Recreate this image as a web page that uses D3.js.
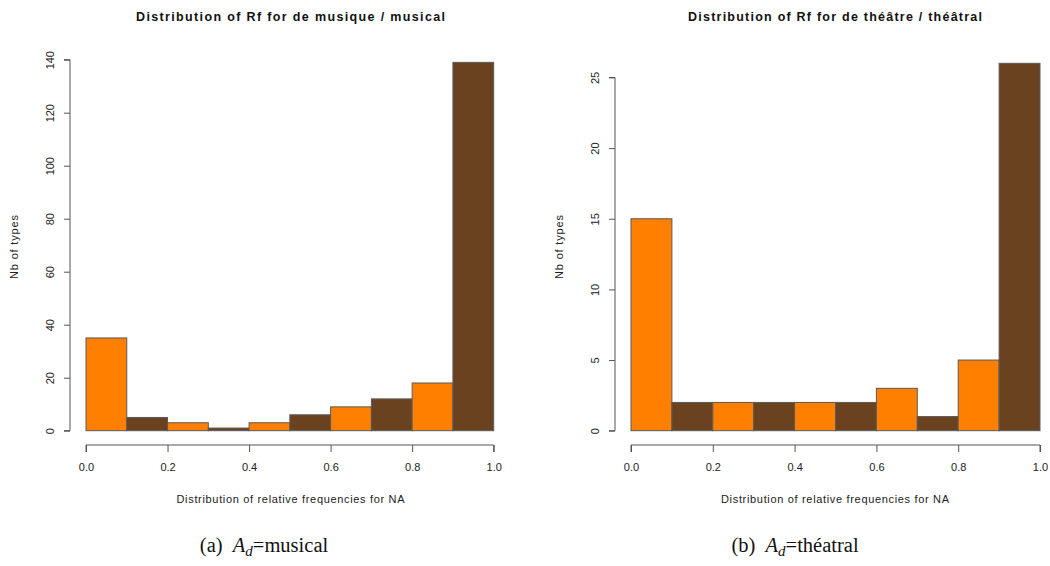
<!DOCTYPE html>
<html><head><meta charset="utf-8">
<script src="https://cdn.jsdelivr.net/npm/d3@7"></script>
<style>body{margin:0;background:#fff}svg{display:block}</style>
</head><body>
<script>
const binEdges = [0,0.1,0.2,0.3,0.4,0.5,0.6,0.7,0.8,0.9,1.0];
const musicalCounts = [35,5,3,1,3,6,9,12,18,139];
const theatralCounts = [15,2,2,2,2,2,3,1,5,26];
const xTicks = [0,0.2,0.4,0.6,0.8,1.0];
const musicalYTicks = [0,20,40,60,80,100,120,140];
const theatralYTicks = [0,5,10,15,20,25];
const barColors = ["#FF7F00","#6B421F"];
const titles = ["Distribution of Rf for de musique / musical","Distribution of Rf for de théâtre / théâtral"];
const captionLetters = ["(a)","(b)"];
const captionWords = ["musical","théatral"];

const svg = d3.select("body").append("svg").attr("width",1050).attr("height",566);
const sans = "'Liberation Sans', Arial, sans-serif";

function panel(cfg){
  const g = svg.append("g");
  const x = d3.scaleLinear().domain([0,1]).range([cfg.x0,cfg.x1]);
  const y = d3.scaleLinear().domain([0,cfg.yMax]).range([430.7,430.7-cfg.pxPerUnit*cfg.yMax]);
  const bins = cfg.counts.map((c,i)=>({x0:binEdges[i],x1:binEdges[i+1],c,i}));
  g.selectAll("rect.bar").data(bins).join("rect").attr("class","bar")
    .attr("x",d=>x(d.x0)).attr("width",d=>x(d.x1)-x(d.x0))
    .attr("y",d=>y(d.c)).attr("height",d=>y(0)-y(d.c))
    .attr("fill",d=>barColors[d.i%2]).attr("stroke","#5a5a5a").attr("stroke-width",1);
  // y axis
  const ya = g.append("g").attr("transform",`translate(${cfg.yAxisX},0)`)
    .call(d3.axisLeft(y).tickValues(cfg.yTicks).tickSize(6).tickFormat(d3.format("d")));
  ya.select(".domain").attr("d",`M-6,${y(cfg.yTicks[cfg.yTicks.length-1])}H0V${y(0)}H-6`).attr("stroke","#555");
  ya.selectAll(".tick line").attr("stroke","#555");
  ya.selectAll(".tick text").attr("transform","rotate(-90)").attr("x",0).attr("y",-16)
    .attr("dy","0").style("text-anchor","middle").attr("font-family",sans).attr("font-size",11).attr("fill","#222");
  // x axis
  const xa = g.append("g").attr("transform","translate(0,445)")
    .call(d3.axisBottom(x).tickValues(xTicks).tickSize(7).tickFormat(d3.format(".1f")));
  xa.select(".domain").attr("d",`M${x(0)},7V0H${x(1)}V7`).attr("stroke","#555");
  xa.selectAll(".tick line").attr("stroke","#555");
  xa.selectAll(".tick text").attr("y",18).attr("font-family",sans).attr("font-size",11).attr("fill","#222");
  // titles
  g.append("text").attr("x",cfg.cx).attr("y",21).attr("text-anchor","middle")
    .attr("textLength",cfg.titleLen).attr("lengthAdjust","spacing")
    .attr("font-family",sans).attr("font-weight","bold").attr("font-size",12.5).attr("fill","#111").text(cfg.title);
  g.append("text").attr("x",cfg.cx).attr("y",503).attr("text-anchor","middle")
    .attr("textLength",228).attr("lengthAdjust","spacing")
    .attr("font-family",sans).attr("font-size",11).attr("fill","#222").text("Distribution of relative frequencies for NA");
  g.append("text").attr("transform",`translate(${cfg.ylabX},247) rotate(-90)`).attr("text-anchor","middle")
    .attr("textLength",64).attr("lengthAdjust","spacing")
    .attr("font-family",sans).attr("font-size",11).attr("fill","#222").text("Nb of types");
  // caption
  const cap = g.append("text").attr("x",cfg.capX).attr("y",552).attr("text-anchor","middle")
    .attr("font-family","'Liberation Serif','DejaVu Serif',serif").attr("font-size",20.5).attr("fill","#111");
  cap.append("tspan").text(cfg.letter+"\u00a0\u00a0");
  cap.append("tspan").attr("font-style","italic").text("A");
  cap.append("tspan").attr("font-style","italic").attr("font-size",15).attr("dy",4).text("d");
  cap.append("tspan").attr("dy",-4).text("="+cfg.word);
}

panel({x0:86,x1:493.7,yAxisX:70,yMax:140,pxPerUnit:2.65,counts:musicalCounts,yTicks:musicalYTicks,
  cx:290.5,titleLen:309,ylabX:18,title:titles[0],capX:264,letter:captionLetters[0],word:captionWords[0]});
panel({x0:631,x1:1040,yAxisX:615,yMax:26,pxPerUnit:14.13,counts:theatralCounts,yTicks:theatralYTicks,
  cx:835,titleLen:294,ylabX:563,title:titles[1],capX:795,letter:captionLetters[1],word:captionWords[1]});
</script>
</body></html>
